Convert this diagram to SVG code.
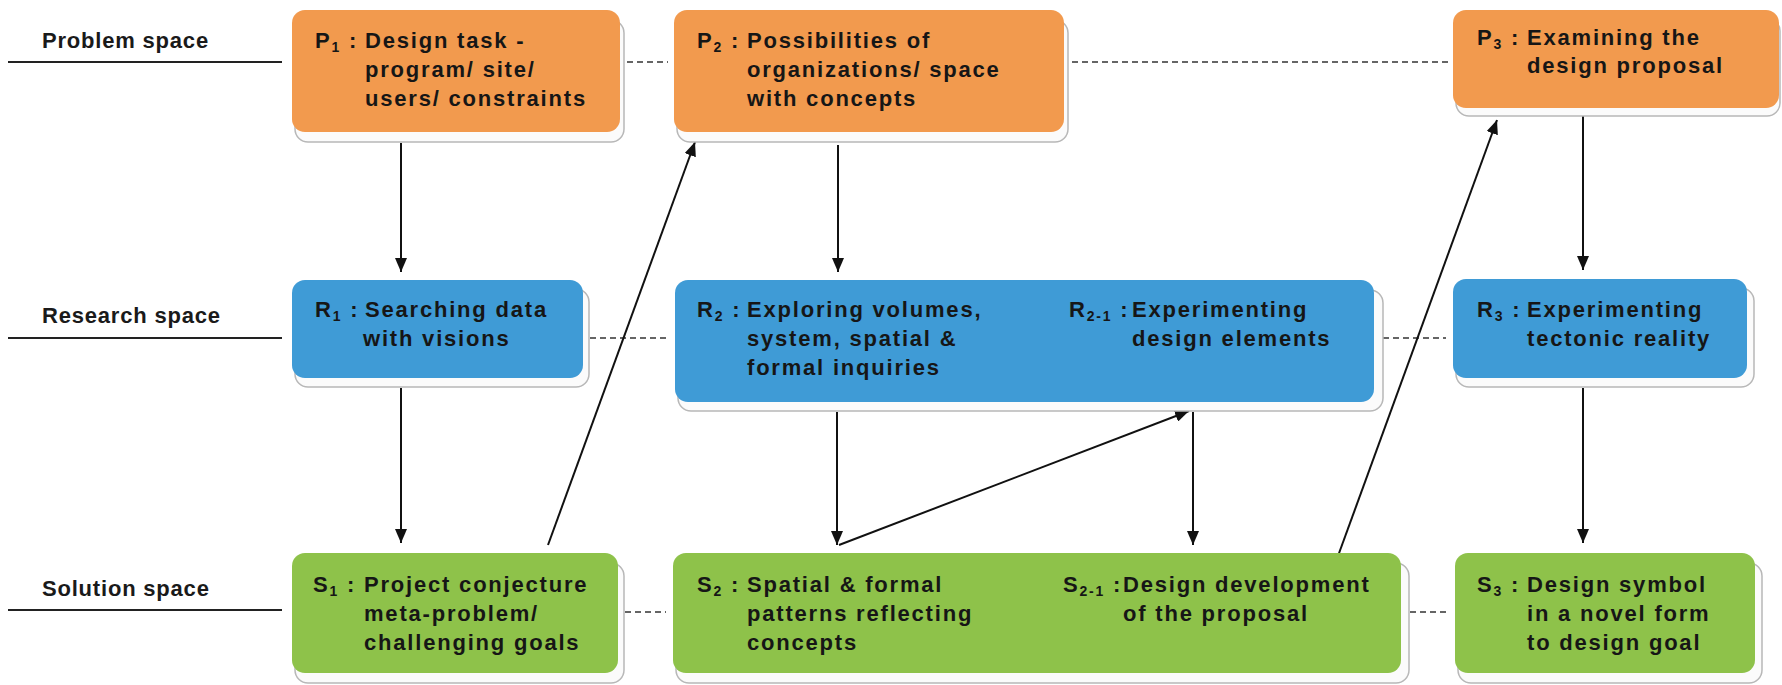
<svg xmlns="http://www.w3.org/2000/svg" width="1782" height="685" viewBox="0 0 1782 685">
<defs>
<style>
.lbl{font-family:"Liberation Sans",Arial,sans-serif;font-weight:bold;font-size:22px;fill:#1a1a1a;letter-spacing:0.8px}
.t{font-family:"Liberation Sans",Arial,sans-serif;font-weight:bold;font-size:22px;fill:#161616;letter-spacing:1.8px}
.sub{font-size:14px}
.sh{fill:#fbfbfb;stroke:#b8b8b8;stroke-width:1.5}
.p{fill:#F29A4E}
.r{fill:#3F9BD6}
.s{fill:#8EC24A}
.solid{stroke:#222;stroke-width:1.8;fill:none}
.dash{stroke:#333;stroke-width:1.6;fill:none;stroke-dasharray:6 4}
.arr{stroke:#111;stroke-width:2;fill:none;marker-end:url(#ah)}
</style>
<marker id="ah" markerUnits="userSpaceOnUse" markerWidth="14" markerHeight="12" refX="14" refY="6" orient="auto">
<path d="M0,0 L14,6 L0,12 z" fill="#111"/>
</marker>
</defs>
<rect width="1782" height="685" fill="#ffffff"/>

<g id="row-labels">
<text class="lbl" x="42" y="48">Problem space</text>
<line class="solid" x1="8" y1="62" x2="282" y2="62"/>
<text class="lbl" x="42" y="323">Research space</text>
<line class="solid" x1="8" y1="338" x2="282" y2="338"/>
<text class="lbl" x="42" y="596">Solution space</text>
<line class="solid" x1="8" y1="610" x2="282" y2="610"/>
</g>

<g id="connectors">
<line class="dash" x1="627" y1="62" x2="668" y2="62"/>
<line class="dash" x1="1072" y1="62" x2="1448" y2="62"/>
<line class="dash" x1="590" y1="338" x2="668" y2="338"/>
<line class="dash" x1="1383" y1="338" x2="1446" y2="338"/>
<line class="dash" x1="625" y1="612" x2="666" y2="612"/>
<line class="dash" x1="1410" y1="612" x2="1448" y2="612"/>

<line class="arr" x1="401" y1="143" x2="401" y2="272"/>
<line class="arr" x1="401" y1="388" x2="401" y2="543"/>
<line class="arr" x1="548" y1="545" x2="695" y2="142"/>
<line class="arr" x1="838" y1="145" x2="838" y2="272"/>
<line class="arr" x1="837" y1="412" x2="837" y2="545"/>
<line class="arr" x1="839" y1="545" x2="1189" y2="411"/>
<line class="arr" x1="1193" y1="412" x2="1193" y2="545"/>
<line class="arr" x1="1338" y1="556" x2="1497" y2="120"/>
<line class="arr" x1="1583" y1="116" x2="1583" y2="270"/>
<line class="arr" x1="1583" y1="388" x2="1583" y2="543"/>
</g>

<g id="P1">
<rect class="sh" x="295" y="20" width="329" height="122" rx="13"/>
<rect class="p" x="292" y="10" width="328" height="122" rx="13"/>
<text class="t" x="315" y="48">P<tspan class="sub" dy="4">1</tspan><tspan dy="-4"> :</tspan></text>
<text class="t" x="365" y="48">Design task -</text>
<text class="t" x="365" y="77">program/ site/</text>
<text class="t" x="365" y="106">users/ constraints</text>
</g>

<g id="P2">
<rect class="sh" x="677" y="20" width="391" height="122" rx="13"/>
<rect class="p" x="674" y="10" width="390" height="122" rx="13"/>
<text class="t" x="697" y="48">P<tspan class="sub" dy="4">2</tspan><tspan dy="-4"> :</tspan></text>
<text class="t" x="747" y="48">Possibilities of</text>
<text class="t" x="747" y="77">organizations/ space</text>
<text class="t" x="747" y="106">with concepts</text>
</g>

<g id="P3">
<rect class="sh" x="1456" y="18" width="324" height="98" rx="13"/>
<rect class="p" x="1453" y="10" width="326" height="98" rx="13"/>
<text class="t" x="1477" y="45">P<tspan class="sub" dy="4">3</tspan><tspan dy="-4"> :</tspan></text>
<text class="t" x="1527" y="45">Examining the</text>
<text class="t" x="1527" y="73">design proposal</text>
</g>

<g id="R1">
<rect class="sh" x="295" y="289" width="294" height="98" rx="13"/>
<rect class="r" x="292" y="280" width="291" height="98" rx="13"/>
<text class="t" x="315" y="317">R<tspan class="sub" dy="4">1</tspan><tspan dy="-4"> :</tspan></text>
<text class="t" x="365" y="317">Searching data</text>
<text class="t" x="363" y="346">with visions</text>
</g>

<g id="R2">
<rect class="sh" x="678" y="290" width="705" height="121" rx="13"/>
<rect class="r" x="675" y="280" width="699" height="122" rx="13"/>
<text class="t" x="697" y="317">R<tspan class="sub" dy="4">2</tspan><tspan dy="-4"> :</tspan></text>
<text class="t" x="747" y="317">Exploring volumes,</text>
<text class="t" x="747" y="346">system, spatial &amp;</text>
<text class="t" x="747" y="375">formal inquiries</text>
<text class="t" x="1069" y="317">R<tspan class="sub" dy="4">2-1</tspan><tspan dy="-4"> :</tspan></text>
<text class="t" x="1132" y="317">Experimenting</text>
<text class="t" x="1132" y="346">design elements</text>
</g>

<g id="R3">
<rect class="sh" x="1456" y="288" width="298" height="99" rx="13"/>
<rect class="r" x="1453" y="279" width="294" height="99" rx="13"/>
<text class="t" x="1477" y="317">R<tspan class="sub" dy="4">3</tspan><tspan dy="-4"> :</tspan></text>
<text class="t" x="1527" y="317">Experimenting</text>
<text class="t" x="1527" y="346">tectonic reality</text>
</g>

<g id="S1">
<rect class="sh" x="295" y="563" width="329" height="120" rx="13"/>
<rect class="s" x="292" y="553" width="326" height="120" rx="13"/>
<text class="t" x="313" y="592">S<tspan class="sub" dy="4">1</tspan><tspan dy="-4"> :</tspan></text>
<text class="t" x="364" y="592">Project conjecture</text>
<text class="t" x="364" y="621">meta-problem/</text>
<text class="t" x="364" y="650">challenging goals</text>
</g>

<g id="S2">
<rect class="sh" x="676" y="563" width="733" height="120" rx="13"/>
<rect class="s" x="673" y="553" width="728" height="120" rx="13"/>
<text class="t" x="697" y="592">S<tspan class="sub" dy="4">2</tspan><tspan dy="-4"> :</tspan></text>
<text class="t" x="747" y="592">Spatial &amp; formal</text>
<text class="t" x="747" y="621">patterns reflecting</text>
<text class="t" x="747" y="650">concepts</text>
<text class="t" x="1063" y="592">S<tspan class="sub" dy="4">2-1</tspan><tspan dy="-4"> :</tspan></text>
<text class="t" x="1123" y="592">Design development</text>
<text class="t" x="1123" y="621">of the proposal</text>
</g>

<g id="S3">
<rect class="sh" x="1458" y="563" width="304" height="120" rx="13"/>
<rect class="s" x="1455" y="553" width="300" height="120" rx="13"/>
<text class="t" x="1477" y="592">S<tspan class="sub" dy="4">3</tspan><tspan dy="-4"> :</tspan></text>
<text class="t" x="1527" y="592">Design symbol</text>
<text class="t" x="1527" y="621">in a novel form</text>
<text class="t" x="1527" y="650">to design goal</text>
</g>
</svg>
